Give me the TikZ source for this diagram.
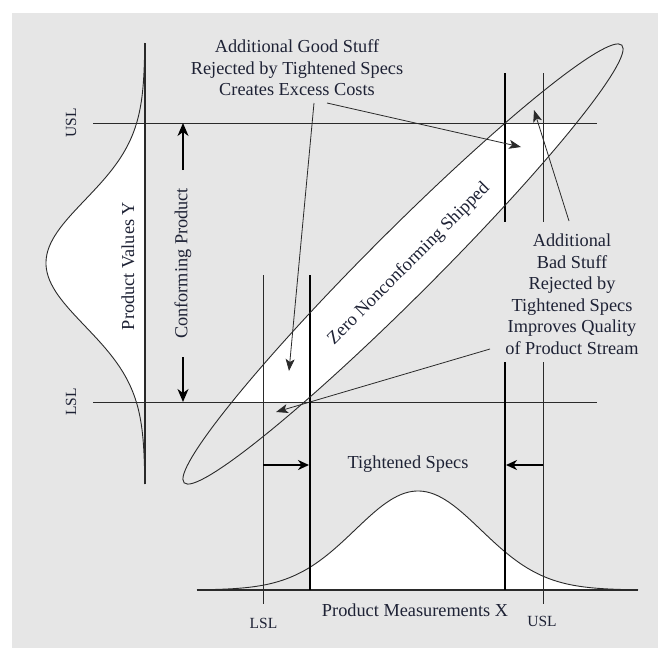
\documentclass[tikz,border=0pt]{standalone}
\usepackage{fontspec}
\setmainfont{Liberation Serif}
\usetikzlibrary{arrows.meta}
\definecolor{bg}{HTML}{E6E6E6}
\definecolor{txt}{HTML}{1E2235}
\definecolor{ln}{HTML}{2A2A2A}
\begin{document}
\begin{tikzpicture}[x=1pt,y=-1pt,
  thinln/.style={draw=ln, line width=0.9pt},
  axisln/.style={draw=ln, line width=1.1pt},
  thickln/.style={draw=black, line width=2.3pt},
  curveln/.style={draw=ln, line width=0.9pt},
  callout/.style={draw=ln, line width=0.8pt, -{Stealth[length=12pt,width=9pt,inset=3pt]}},
  confarr/.style={draw=black, line width=1.3pt, -{Stealth[length=13pt,width=11pt,inset=4pt]}},
  specarr/.style={draw=black, line width=2pt, -{Stealth[length=11pt,width=10pt,inset=3.5pt]}},
  lbl/.style={text=txt, font=\fontsize{18.3}{21.5}\selectfont, inner sep=0pt, align=center},
  sm/.style={text=txt, font=\fontsize{15.5}{18}\selectfont, inner sep=0pt}]
\useasboundingbox (0,0) rectangle (669,659);
\fill[white] (0,0) rectangle (669,659);
\fill[bg] (12,13) rectangle (658,648);
% white regions
\begin{scope}
  \clip (0,123) rectangle (669,402);
  \fill[white, rotate around={45:(403,264)}] (403,264) ellipse [x radius=309.5, y radius=33];
\end{scope}
\fill[white] plot[domain=123:402, samples=60] ({145-99*exp(-0.5*((\x-263)/63)*((\x-263)/63))}, \x) -- (145,402) -- (145,123) -- cycle;
\fill[white] (310,590) -- plot[domain=310:638, samples=70] (\x, {590-99*exp(-0.5*((\x-418)/63)*((\x-418)/63))}) -- (638,590) -- cycle;
% distributions
\draw[curveln] plot[domain=43:484, samples=120] ({145-99*exp(-0.5*((\x-263)/63)*((\x-263)/63))}, \x);
\draw[curveln] plot[domain=197:638, samples=120] (\x, {590-99*exp(-0.5*((\x-418)/63)*((\x-418)/63))});
% axes and limits
\draw[axisln] (145,43) -- (145,484);
\draw[axisln] (197,590) -- (638,590);
\draw[thinln] (93,123) -- (597,123);
\draw[thinln] (93,402) -- (597,402);
\draw[thinln] (263,275) -- (263,604);
\draw[thinln] (543,73) -- (543,222);
\draw[thinln] (543,362) -- (543,604);
\draw[thickln] (310,275) -- (310,590);
\draw[thickln] (505,73) -- (505,222);
\draw[thickln] (505,362) -- (505,590);
% ellipse
\draw[curveln, rotate around={45:(403,264)}] (403,264) ellipse [x radius=309.5, y radius=33];
% texts
\node[lbl] (goodtxt) at (297,68) {Additional Good Stuff\\Rejected by Tightened Specs\\Creates Excess Costs};
\node[lbl] (badtxt) at (572,294) {Additional\\Bad Stuff\\Rejected by\\Tightened Specs\\Improves Quality\\of Product Stream};
\node[lbl, rotate=90] (valy) at (128,266) {Product Values Y};
\node[lbl, rotate=90] (conf) at (183,263.5) {Conforming Product};
\node[sm, rotate=90] (uslY) at (71,123) {USL};
\node[sm, rotate=90] (lslY) at (71,402) {LSL};
\node[lbl, rotate=45] (zero) at (409,264) {Zero Nonconforming Shipped};
\node[lbl] (tight) at (408,464) {Tightened Specs};
\node[lbl] (measx) at (415,610) {Product Measurements X};
\node[sm] (lslX) at (263.5,623) {LSL};
\node[sm] (uslX) at (542,621) {USL};
% arrow coordinates
\coordinate (cu1) at (183,170); \coordinate (cu2) at (183,123);
\coordinate (cd1) at (183,357); \coordinate (cd2) at (183,402);
\coordinate (sl1) at (263,465); \coordinate (sl2) at (309,465);
\coordinate (su1) at (543,465); \coordinate (su2) at (506,465);
\coordinate (g1s) at (314,103); \coordinate (g1e) at (289,371);
\coordinate (g2s) at (327,103); \coordinate (g2e) at (521,147);
\coordinate (b1s) at (569,221); \coordinate (b1e) at (534,110);
\coordinate (b2s) at (490,349); \coordinate (b2e) at (276,412);
\draw[confarr] (cu1) -- (cu2);
\draw[confarr] (cd1) -- (cd2);
\draw[specarr] (sl1) -- (sl2);
\draw[specarr] (su1) -- (su2);
\draw[callout] (g1s) -- (g1e);
\draw[callout] (g2s) -- (g2e);
\draw[callout] (b1s) -- (b1e);
\draw[callout] (b2s) -- (b2e);
\end{tikzpicture}
\end{document}
